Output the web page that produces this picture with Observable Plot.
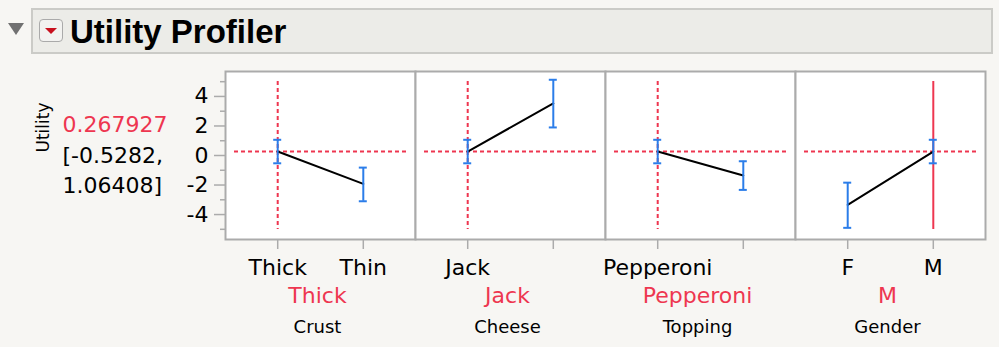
<!DOCTYPE html>
<html>
<head>
<meta charset="utf-8">
<script src="https://cdn.jsdelivr.net/npm/d3@7"></script>
<script src="https://cdn.jsdelivr.net/npm/@observablehq/plot@0.6"></script>
<style>
  html, body { margin: 0; padding: 0; background: #f7f6f3; width: 999px; height: 347px; overflow: hidden; }
  #hdr { position: relative; height: 60px; }
  #box { position: absolute; left: 31px; top: 8px; width: 958px; height: 42px; background: #ecece8; border: 2px solid #cbcbc7; }
  #tri { position: absolute; left: 8px; top: 23px; width: 0; height: 0; border-left: 8.5px solid transparent; border-right: 8.5px solid transparent; border-top: 12px solid #717171; }
  #btn { position: absolute; left: 39px; top: 19px; width: 22px; height: 21px; border: 1.5px solid #aaaaaa; border-radius: 4px; background: #f2f2f0; }
  #btn::after { content: ""; position: absolute; left: 4.5px; top: 7.5px; width: 0; height: 0; border-left: 6.5px solid transparent; border-right: 6.5px solid transparent; border-top: 6.5px solid #c8101e; }
  #title { position: absolute; left: 70px; top: 15px; font: bold 33px/33px "Liberation Sans", Arial, sans-serif; color: #000; white-space: nowrap; }
</style>
</head>
<body>
<div id="hdr">
  <div id="box"></div>
  <div id="tri"></div>
  <div id="btn"></div>
  <div id="title">Utility Profiler</div>
</div>
<div id="chart"></div>
<script>
// ---- data ----
const factors = ["Crust", "Cheese", "Topping", "Gender"];
const levels = [["Thick", "Thin"], ["Jack", ""], ["Pepperoni", ""], ["F", "M"]];
const utility = [[0.267927, -1.92], [0.267927, 3.53], [0.267927, -1.36], [-3.35, 0.267927]];
const lower = [[-0.5282, -3.1], [-0.5282, 1.9], [-0.5282, -2.33], [-4.9, -0.5282]];
const upper = [[1.06408, -0.82], [1.06408, 5.13], [1.06408, -0.39], [-1.84, 1.06408]];
const currentLevel = ["Thick", "Jack", "Pepperoni", "M"];
const currentIndex = [0, 0, 0, 1];
const currentUtility = 0.267927;
const currentLower = -0.5282;
const currentUpper = 1.06408;
const yLabel = "Utility";
const yTicks = [-4, -2, 0, 2, 4];
const yMinorTicks = [-5, -3, -1, 1, 3, 5];

// ---- build tables ----
const rows = factors.flatMap((f, i) => levels[i].map((l, j) => ({
  factor: f, i: j, level: l, u: utility[i][j], lo: lower[i][j], hi: upper[i][j]
})));
const cur = factors.map((f, i) => ({factor: f, i: currentIndex[i], level: currentLevel[i]}));
const first = [{factor: factors[0]}];

const RED = "#ee3650";
const BLUE = "#2b7de9";
const GRAY = "#ababab";
const FONT = "DejaVu Sans";

const chart = Plot.plot({
  width: 999,
  height: 287,
  marginTop: 11,
  marginBottom: 108,
  marginLeft: 224,
  marginRight: 13,
  style: {fontFamily: FONT, background: "transparent", color: "#000", overflow: "visible"},
  fx: {domain: factors, padding: 0, axis: null},
  x: {type: "linear", domain: [-0.61, 1.61], axis: null},
  y: {domain: [-5.69, 5.69], axis: null},
  marks: [
    Plot.frame({fill: "white", stroke: GRAY, strokeWidth: 2}),
    // y axis ticks (first facet only)
    Plot.axisY({ticks: yMinorTicks, tickSize: 5, tickFormat: () => "", label: null, stroke: GRAY, strokeWidth: 1.5}),
    Plot.axisY({ticks: yTicks, tickSize: 11, tickPadding: 6, label: null, stroke: GRAY, strokeWidth: 1.5, fill: "#000", fontSize: 22, tickFormat: d => String(d)}),
    // x axis ticks
    Plot.axisX({ticks: [0, 1], tickSize: 10, tickFormat: () => "", label: null, stroke: GRAY, strokeWidth: 1.5}),
    // current value reference lines
    Plot.ruleY([currentUtility], {y: d => d, insetLeft: 9, insetRight: 9, stroke: RED, strokeWidth: 2, strokeDasharray: "4,3"}),
    Plot.ruleX(cur.filter(d => d.factor !== "Gender"), {fx: "factor", x: "i", insetTop: 10, insetBottom: 10, stroke: RED, strokeWidth: 2, strokeDasharray: "4,3"}),
    Plot.ruleX(cur.filter(d => d.factor === "Gender"), {fx: "factor", x: "i", insetTop: 10, insetBottom: 10, stroke: RED, strokeWidth: 2}),
    // profile line
    Plot.line(rows, {fx: "factor", x: "i", y: "u", z: "factor", stroke: "#000", strokeWidth: 2}),
    // confidence bars
    Plot.ruleX(rows, {fx: "factor", x: "i", y1: "lo", y2: "hi", stroke: BLUE, strokeWidth: 2}),
    Plot.ruleY(rows, {fx: "factor", y: "lo", x1: "i", x2: "i", insetLeft: -4, insetRight: -4, stroke: BLUE, strokeWidth: 2}),
    Plot.ruleY(rows, {fx: "factor", y: "hi", x1: "i", x2: "i", insetLeft: -4, insetRight: -4, stroke: BLUE, strokeWidth: 2}),
    // level labels
    Plot.text(rows, {fx: "factor", x: "i", text: "level", frameAnchor: "bottom", dy: 35, fontSize: 22, fill: "#000"}),
    Plot.text(cur, {fx: "factor", text: "level", frameAnchor: "bottom", dy: 63, dx: -3, fontSize: 22, fill: RED}),
    Plot.text(factors, {fx: d => d, text: d => d, frameAnchor: "bottom", dy: 93, dx: -3, fontSize: 18, fill: "#000"}),
    // left-hand readout
    Plot.text(first, {fx: "factor", text: () => yLabel, frameAnchor: "left", dx: -182, dy: -3, rotate: -90, fontSize: 17, fill: "#000"}),
    Plot.text(first, {fx: "factor", text: () => String(currentUtility), frameAnchor: "left", textAnchor: "start", dx: -163, dy: -31, fontSize: 22, fill: RED}),
    Plot.text(first, {fx: "factor", text: () => "[" + currentLower + ",", frameAnchor: "left", textAnchor: "start", dx: -163, dy: 0, fontSize: 22, fill: "#000"}),
    Plot.text(first, {fx: "factor", text: () => currentUpper + "]", frameAnchor: "left", textAnchor: "start", dx: -163, dy: 30, fontSize: 22, fill: "#000"})
  ]
});
document.getElementById("chart").appendChild(chart);
</script>
</body>
</html>
